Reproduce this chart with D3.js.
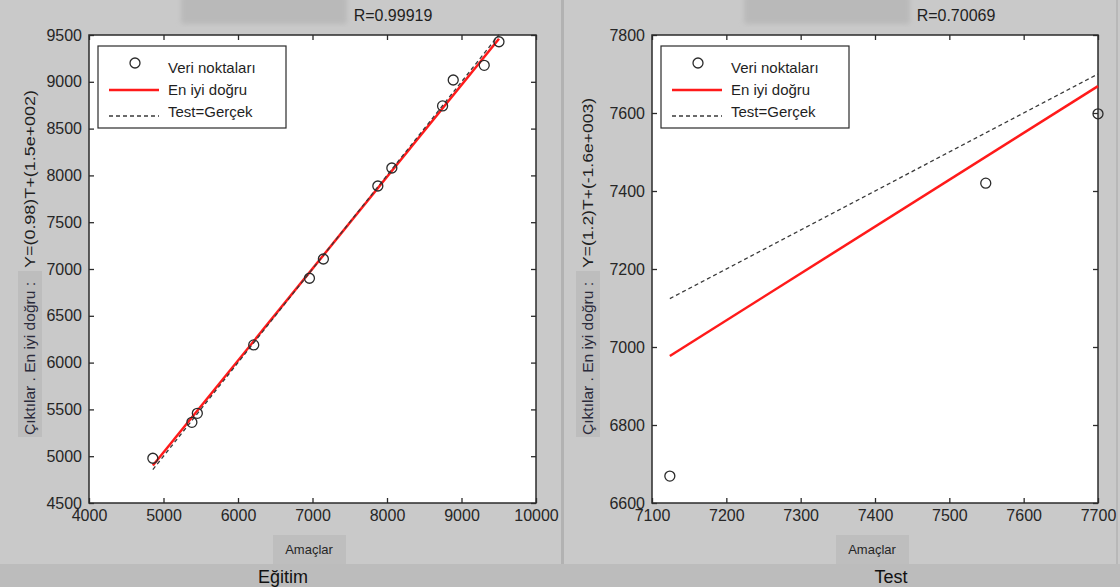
<!DOCTYPE html>
<html>
<head>
<meta charset="utf-8">
<script src="https://cdn.jsdelivr.net/npm/d3@7/dist/d3.min.js"></script>
<style>
body { margin: 0; background: #c9c9c9; }
svg { display: block; font-family: "Liberation Sans", Arial, sans-serif; }
</style>
</head>
<body>
<div id="chart"></div>
<script>
// Eğitim (training) set: targets and network outputs
var trainTargets = [4857, 5381, 5454, 6211, 6959, 7146, 7877, 8065, 8746, 8889, 9305, 9503];
var trainOutputs = [4978, 5362, 5458, 6189, 6901, 7107, 7887, 8079, 8742, 9019, 9176, 9428];
var trainFitEnds = [4900, 9460];
var trainXTicks = [4000, 5000, 6000, 7000, 8000, 9000, 10000];
var trainYTicks = [4500, 5000, 5500, 6000, 6500, 7000, 7500, 8000, 8500, 9000, 9500];

// Test set
var testTargets = [7124, 7549, 7700];
var testOutputs = [6669, 7420, 7598];
var testFitEnds = [6977, 7669];
var testXTicks = [7100, 7200, 7300, 7400, 7500, 7600, 7700];
var testYTicks = [6600, 6800, 7000, 7200, 7400, 7600, 7800];

var panelTitles = ["Eğitim", "Test"];
var rLabels = ["R=0.99919", "R=0.70069"];
var fitLabels = ["Y=(0.98)T+(1.5e+002)", "Y=(1.2)T+(-1.6e+003)"];
var yLabelPrefix = "Çıktılar . En iyi doğru :";
var xLabel = "Amaçlar";
var legendLabels = ["Veri noktaları", "En iyi doğru", "Test=Gerçek"];

var svg = d3.select("#chart").append("svg")
	.attr("width", 1120)
	.attr("height", 587);

svg.append("rect").attr("width", 1120).attr("height", 587).attr("fill", "#c9c9c9");
// bottom strip and panel divider
svg.append("rect").attr("x", 0).attr("y", 564).attr("width", 1120).attr("height", 23).attr("fill", "#bcbcbc");
svg.append("rect").attr("x", 561).attr("y", 0).attr("width", 3).attr("height", 564).attr("fill", "#b2b2b2");
svg.append("rect").attr("x", 1116).attr("y", 0).attr("width", 2).attr("height", 564).attr("fill", "#b8b8b8");

var defs = svg.append("defs");
defs.append("filter").attr("id", "soft")
	.append("feGaussianBlur").attr("stdDeviation", 2.5);

function RegressionPanel(opts){
	var vis = this;
	vis.opts = opts;
	vis.init();
}

RegressionPanel.prototype.init = function(){
	var vis = this;
	var o = vis.opts;
	vis.top = 35;
	vis.bottom = 503;

	vis.x = d3.scaleLinear()
		.domain([o.xTicks[0], o.xTicks[o.xTicks.length - 1]])
		.range([o.x0, o.x1]);
	vis.y = d3.scaleLinear()
		.domain([o.yTicks[0], o.yTicks[o.yTicks.length - 1]])
		.range([vis.bottom, vis.top]);

	vis.g = svg.append("g");
	vis.drawFrame();
	vis.drawMarks();
	vis.drawLegend();
	vis.drawLabels();
}

RegressionPanel.prototype.drawFrame = function(){
	var vis = this;
	var o = vis.opts;

	vis.g.append("rect")
		.attr("x", o.x0).attr("y", vis.top)
		.attr("width", o.x1 - o.x0).attr("height", vis.bottom - vis.top)
		.attr("fill", "#ffffff");

	var xAxis = d3.axisBottom(vis.x).tickValues(o.xTicks).tickSizeInner(-5).tickSizeOuter(0).tickPadding(7).tickFormat(d3.format("d"));
	var yAxis = d3.axisLeft(vis.y).tickValues(o.yTicks).tickSizeInner(-5).tickSizeOuter(0).tickPadding(7).tickFormat(d3.format("d"));
	var xTop = d3.axisTop(vis.x).tickValues(o.xTicks).tickSizeInner(-5).tickSizeOuter(0).tickFormat("");
	var yRight = d3.axisRight(vis.y).tickValues(o.yTicks).tickSizeInner(-5).tickSizeOuter(0).tickFormat("");

	var axes = [
		vis.g.append("g").attr("transform", "translate(0," + vis.bottom + ")").call(xAxis),
		vis.g.append("g").attr("transform", "translate(" + o.x0 + ",0)").call(yAxis),
		vis.g.append("g").attr("transform", "translate(0," + vis.top + ")").call(xTop),
		vis.g.append("g").attr("transform", "translate(" + o.x1 + ",0)").call(yRight)
	];
	axes.forEach(function(a){
		a.select(".domain").remove();
		a.selectAll("line").attr("stroke", "#2b2b2b").attr("stroke-width", 1.3);
		a.selectAll("text")
			.attr("fill", "#262626")
			.style("font-size", "16px")
			.style("font-family", "'Liberation Sans', Arial, sans-serif");
	});

	vis.g.append("rect")
		.attr("x", o.x0).attr("y", vis.top)
		.attr("width", o.x1 - o.x0).attr("height", vis.bottom - vis.top)
		.attr("fill", "none")
		.attr("stroke", "#2b2b2b")
		.attr("stroke-width", 1.5);
}

RegressionPanel.prototype.drawMarks = function(){
	var vis = this;
	var o = vis.opts;
	var tMin = d3.min(o.targets), tMax = d3.max(o.targets);

	var line = d3.line()
		.x(function(d){ return vis.x(d[0]); })
		.y(function(d){ return vis.y(d[1]); });

	vis.g.append("path")
		.datum([[tMin, o.fitEnds[0]], [tMax, o.fitEnds[1]]])
		.attr("d", line)
		.attr("fill", "none")
		.attr("stroke", "#ff1a1a")
		.attr("stroke-width", 2.5);

	vis.g.append("path")
		.datum([[tMin, tMin], [tMax, tMax]])
		.attr("d", line)
		.attr("fill", "none")
		.attr("stroke", "#3a3a3a")
		.attr("stroke-width", 1.3)
		.attr("stroke-dasharray", "4,3");

	vis.g.selectAll("circle.pt").data(o.targets).enter()
		.append("circle")
		.attr("class", "pt")
		.attr("cx", function(d){ return vis.x(d); })
		.attr("cy", function(d, i){ return vis.y(o.outputs[i]); })
		.attr("r", 5)
		.attr("fill", "none")
		.attr("stroke", "#2b2b2b")
		.attr("stroke-width", 1.3);
}

RegressionPanel.prototype.drawLegend = function(){
	var vis = this;
	var o = vis.opts;
	var lx = o.x0 + 9, ly = 46;

	var leg = vis.g.append("g").attr("transform", "translate(" + lx + "," + ly + ")");
	leg.append("rect")
		.attr("width", 188).attr("height", 82)
		.attr("fill", "#ffffff")
		.attr("stroke", "#2b2b2b")
		.attr("stroke-width", 1.2);

	leg.append("circle")
		.attr("cx", 37).attr("cy", 17).attr("r", 5)
		.attr("fill", "none").attr("stroke", "#2b2b2b").attr("stroke-width", 1.3);
	leg.append("line")
		.attr("x1", 11).attr("x2", 61).attr("y1", 44).attr("y2", 44)
		.attr("stroke", "#ff1a1a").attr("stroke-width", 2.5);
	leg.append("line")
		.attr("x1", 11).attr("x2", 61).attr("y1", 70).attr("y2", 70)
		.attr("stroke", "#3a3a3a").attr("stroke-width", 1.3).attr("stroke-dasharray", "4,3");

	leg.selectAll("text").data(legendLabels).enter()
		.append("text")
		.attr("x", 70)
		.attr("y", function(d, i){ return 27 + i * 22; })
		.attr("fill", "#1f1f1f")
		.style("font-size", "15px")
		.text(function(d){ return d; });
}

RegressionPanel.prototype.drawLabels = function(){
	var vis = this;
	var o = vis.opts;

	// blurred header box and R value
	vis.g.append("rect")
		.attr("x", o.x0 + 92).attr("y", -6)
		.attr("width", 166).attr("height", 30)
		.attr("rx", 3)
		.attr("fill", "#b9b9b9")
		.attr("filter", "url(#soft)");
	vis.g.append("text")
		.attr("x", o.x0 + 304).attr("y", 21)
		.attr("text-anchor", "middle")
		.attr("fill", "#1f1f1f")
		.style("font-size", "16px")
		.text(o.rLabel);

	// x label
	vis.g.append("rect")
		.attr("x", o.x0 + 184).attr("y", 535)
		.attr("width", 73).attr("height", 29)
		.attr("fill", "#bebebe");
	vis.g.append("text")
		.attr("x", o.x0 + 220).attr("y", 554)
		.attr("text-anchor", "middle")
		.attr("fill", "#262626")
		.style("font-size", "13px")
		.text(xLabel);

	// panel title
	vis.g.append("text")
		.attr("x", o.titleX).attr("y", 583)
		.attr("text-anchor", "middle")
		.attr("fill", "#111111")
		.style("font-size", "18px")
		.text(o.title);

	// rotated y label
	var yl = vis.g.append("g").attr("transform", "translate(" + o.yLabelX + ",0) rotate(-90)");
	yl.append("rect")
		.attr("x", -437).attr("y", -12)
		.attr("width", 166).attr("height", 24)
		.attr("fill", "#bdbdbd");
	yl.append("text")
		.attr("x", -435).attr("y", 5)
		.attr("textLength", 153)
		.attr("lengthAdjust", "spacingAndGlyphs")
		.attr("fill", "#2a2a3a")
		.style("font-size", "14px")
		.text(yLabelPrefix);
	yl.append("text")
		.attr("x", -268).attr("y", 5)
		.attr("textLength", o.fitLen)
		.attr("lengthAdjust", "spacingAndGlyphs")
		.attr("fill", "#1f1f1f")
		.style("font-size", "14px")
		.text(o.fitLabel);
}

new RegressionPanel({
	x0: 89, x1: 536,
	targets: trainTargets, outputs: trainOutputs, fitEnds: trainFitEnds,
	xTicks: trainXTicks, yTicks: trainYTicks,
	title: panelTitles[0], rLabel: rLabels[0], fitLabel: fitLabels[0],
	titleX: 283, yLabelX: 30, fitLen: 178
});

new RegressionPanel({
	x0: 652, x1: 1098,
	targets: testTargets, outputs: testOutputs, fitEnds: testFitEnds,
	xTicks: testXTicks, yTicks: testYTicks,
	title: panelTitles[1], rLabel: rLabels[1], fitLabel: fitLabels[1],
	titleX: 891, yLabelX: 588, fitLen: 170
});
</script>
</body>
</html>
